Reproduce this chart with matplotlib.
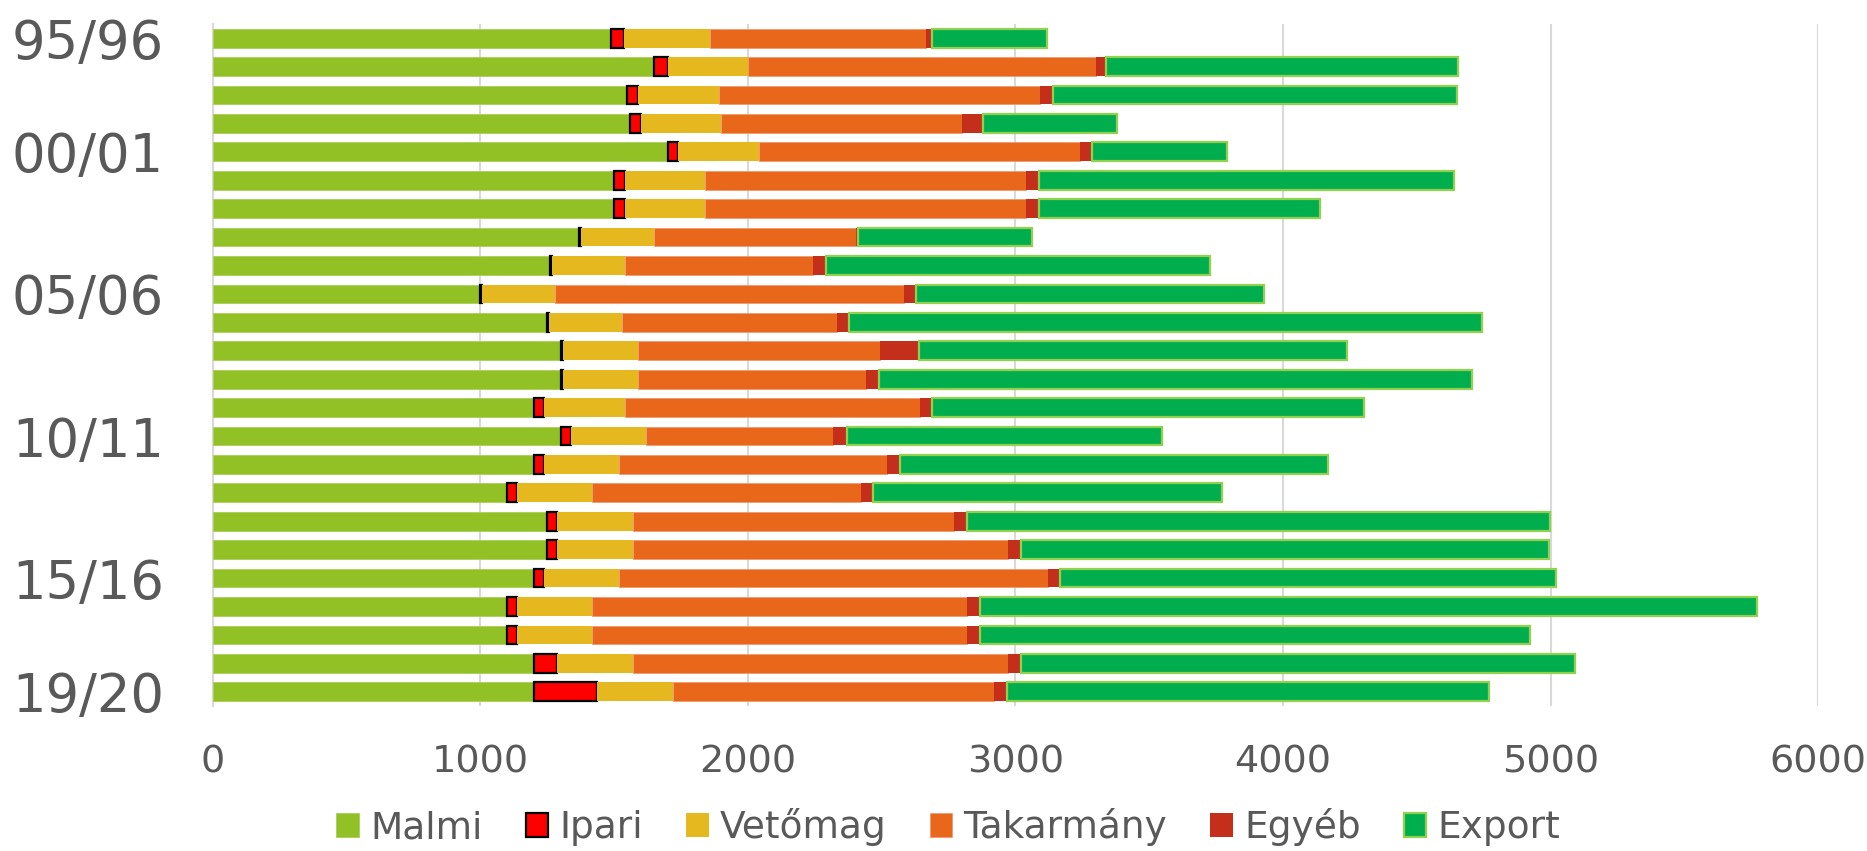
import matplotlib
matplotlib.use("Agg")
import matplotlib.pyplot as plt
import numpy as np

# seasons, top to bottom
seasons = ["96/97", "97/98", "98/99", "99/00", "00/01", "01/02", "02/03", "03/04",
           "04/05", "05/06", "06/07", "07/08", "08/09", "09/10", "10/11", "11/12",
           "12/13", "13/14", "14/15", "15/16", "16/17", "17/18", "18/19", "19/20"]
tick_rows = [0, 4, 9, 14, 19, 23]
tick_labels = ["95/96", "00/01", "05/06", "10/11", "15/16", "19/20"]

malmi = [1490, 1650, 1550, 1560, 1700, 1500, 1500, 1370, 1260, 1000, 1250, 1300,
         1300, 1200, 1300, 1200, 1100, 1250, 1250, 1200, 1100, 1100, 1200, 1200]
ipari = [46, 50, 40, 40, 40, 40, 40, 8, 8, 8, 8, 8,
         8, 40, 38, 40, 38, 38, 38, 40, 38, 38, 88, 238]
vetomag = [324, 300, 302, 300, 300, 300, 300, 270, 272, 270, 272, 283,
           283, 300, 282, 280, 280, 282, 282, 280, 280, 280, 282, 282]
takarmany = [804, 1302, 1200, 902, 1200, 1200, 1200, 756, 704, 1305, 803, 903,
             851, 1103, 700, 1001, 1003, 1202, 1402, 1600, 1402, 1402, 1402, 1201]
egyeb = [23, 35, 48, 75, 45, 47, 47, 7, 48, 46, 46, 145,
         47, 45, 49, 47, 47, 47, 47, 48, 48, 48, 47, 47]
export = [432, 1315, 1511, 504, 504, 1550, 1052, 652, 1435, 1300, 2363, 1601,
          2218, 1615, 1179, 1601, 1303, 2178, 1973, 1853, 2904, 2056, 2073, 1802]

series = [
    ("Malmi", malmi, "#92C125", "#A9CF5A", 0.6),
    ("Ipari", ipari, "#FF0000", "#000000", 1.6),
    ("Vetőmag", vetomag, "#E6B820", "#E6B820", 0.0),
    ("Takarmány", takarmany, "#E8671A", "#EE9A70", 0.6),
    ("Egyéb", egyeb, "#C42F1C", "#C42F1C", 0.0),
    ("Export", export, "#00AE4E", "#92D050", 1.6),
]

plt.rcParams['font.family'] = ['DejaVu Sans']
grey = "#595959"

fig = plt.figure(figsize=(18.67, 8.51), dpi=100)
ax = fig.add_axes([0.1139, 0.1704, 0.860, 0.8014])

y = np.arange(len(seasons))
left = np.zeros(len(seasons))
for name, vals, color, edge, lw in series:
    vals = np.array(vals, dtype=float)
    ax.barh(y, vals, left=left, height=0.66, color=color, edgecolor=edge,
            linewidth=lw, label=name, zorder=3)
    left += vals

ax.set_xlim(0, 6000)
ax.set_ylim(len(seasons) - 0.5, -0.5)
ax.set_xticks(np.arange(0, 6001, 1000))
ax.set_yticks(tick_rows)
ax.set_yticklabels(tick_labels)
ax.tick_params(axis='y', length=0, pad=35, labelsize=38, labelcolor=grey)
ax.tick_params(axis='x', length=0, pad=28, labelsize=27.5, labelcolor=grey)
ax.grid(axis='x', color="#D9D9D9", linewidth=1.5, zorder=0)
for s in ["top", "right", "bottom"]:
    ax.spines[s].set_visible(False)
ax.spines["left"].set_color("#D9D9D9")
ax.spines["left"].set_linewidth(1.5)

leg = fig.legend(loc='center', bbox_to_anchor=(0.508, 0.028), ncol=6, frameon=False,
                 fontsize=27, handlelength=0.6, handleheight=0.6, handletextpad=0.3,
                 columnspacing=1.15, labelcolor=grey)

fig.savefig("out.png", dpi=100)
